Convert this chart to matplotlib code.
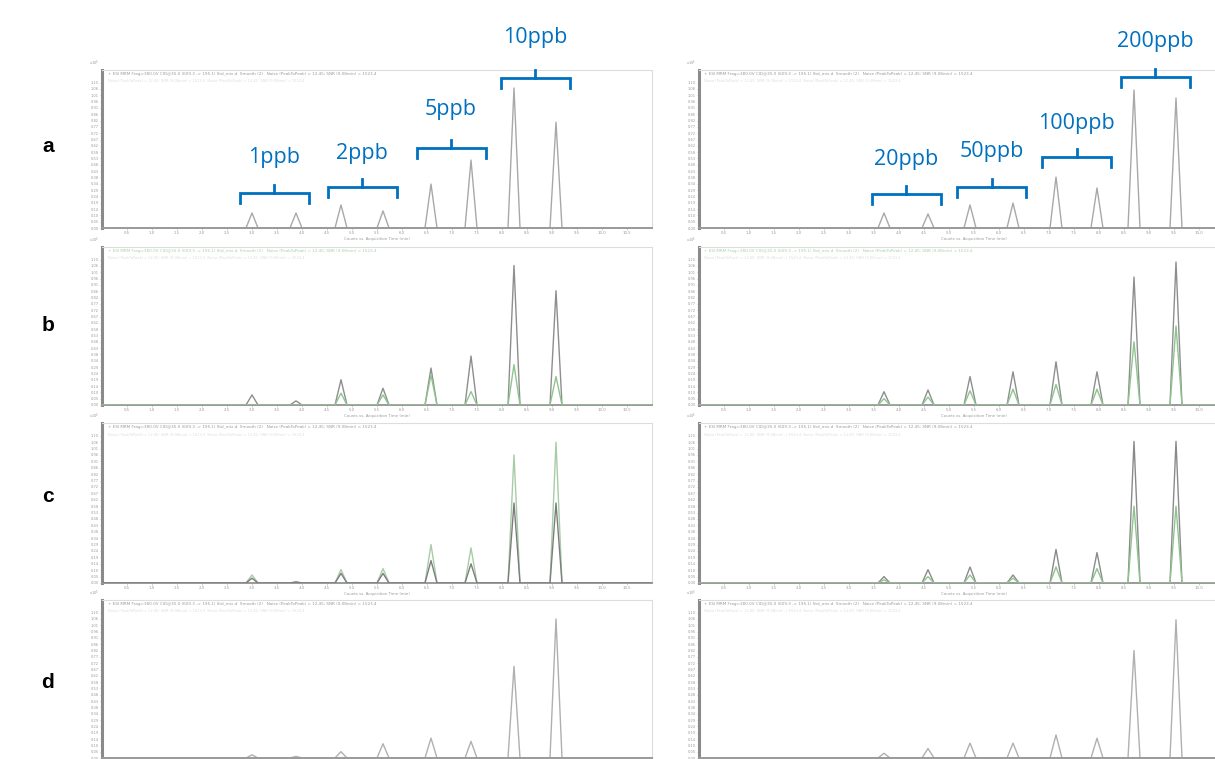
import matplotlib
matplotlib.use("Agg")
import matplotlib.pyplot as plt
from matplotlib.transforms import blended_transform_factory
import numpy as np

W, H = 1215, 759

# ---------------- data ----------------
left_times = [3.00, 3.88, 4.78, 5.62, 6.58, 7.38, 8.24, 9.08]     # retention times (min)
right_times = [3.70, 4.58, 5.42, 6.28, 7.14, 7.96, 8.70, 9.54]

# peak heights in % of full scale
a_left_gray = [9.5, 9.5, 14.6, 10.8, 27.8, 43.0, 88.6, 67.0]
a_right_gray = [9.5, 8.9, 14.6, 15.8, 32.3, 25.3, 87.3, 82.3]
b_left_gray = [6.4, 2.6, 16.0, 10.6, 23.4, 31.0, 88.3, 72.3]
b_left_green = [0.0, 0.0, 7.5, 6.4, 19.0, 8.5, 25.5, 18.0]
b_right_gray = [8.4, 9.5, 18.0, 21.0, 27.4, 21.0, 81.0, 90.5]
b_right_green = [4.0, 5.0, 9.0, 10.0, 13.0, 10.0, 40.0, 50.0]
c_left_green = [5.0, 1.0, 8.4, 9.0, 24.0, 22.0, 80.0, 88.0]
c_left_gray = [3.0, 0.5, 6.0, 6.0, 14.0, 12.0, 50.0, 50.0]
c_right_gray = [4.0, 8.3, 10.0, 5.0, 21.0, 19.0, 88.5, 88.5]
c_right_green = [2.0, 4.0, 5.0, 3.0, 10.0, 9.0, 48.0, 48.0]
d_left_gray = [2.0, 1.0, 4.0, 9.0, 12.6, 10.5, 58.0, 88.0]
d_right_gray = [3.0, 6.0, 9.4, 9.4, 14.6, 12.5, 68.0, 87.5]

left_conc = ["1ppb", "2ppb", "5ppb", "10ppb"]
right_conc = ["20ppb", "50ppb", "100ppb", "200ppb"]
panel_labels = ["a", "b", "c", "d"]

header_text = "+ ESI MRM Frag=380.0V CID@35.0 (609.3 -> 195.1) Std_mix.d  Smooth (2)"
header_text2 = "Noise (PeakToPeak) = 12.45; SNR (9.08min) = 1523.4"
xlabel_text = "Counts vs. Acquisition Time (min)"

# ---------------- layout ----------------
BLUE = "#0070C0"
rows = [(70, 228), (247, 405), (423, 583), (600, 758)]
label_y = [147, 325, 497, 683]
cols = [(102, 652), (699, 1249)]
XMIN, XMAX = 0.0, 11.0
PEAK_HW = 0.12

fig = plt.figure(figsize=(W / 100, H / 100), dpi=100)
fig.patch.set_facecolor("white")


def rect(x0, top, x1, bottom):
    return [x0 / W, 1 - bottom / H, (x1 - x0) / W, (bottom - top) / H]


def trace(times, heights):
    xs, ys = [XMIN], [0.0]
    for t, h in zip(times, heights):
        xs += [t - PEAK_HW, t, t + PEAK_HW]
        ys += [0.0, h, 0.0]
    xs.append(XMAX)
    ys.append(0.0)
    return xs, ys


def style_axes(ax, header_color, col, show_x):
    ax.set_xlim(XMIN, XMAX)
    ax.set_ylim(0, 100)
    for s in ["top", "right"]:
        ax.spines[s].set_color("#dddddd")
        ax.spines[s].set_linewidth(0.8)
    ax.spines["left"].set_color("#8a8a8a")
    ax.spines["left"].set_linewidth(2.2)
    ax.spines["bottom"].set_color("#9a9a9a")
    ax.spines["bottom"].set_linewidth(1.4)
    yt = np.arange(0, 95, 4)
    ax.set_yticks(yt)
    ax.set_yticklabels([f"{v/100*1.2:.2f}" for v in yt], fontsize=2.6, color="#9a9a9a")
    xt = np.arange(0.5, 11.0 if col == 0 else 10.1, 0.5)
    ax.set_xticks(xt)
    if show_x:
        ax.set_xticklabels([f"{v:.1f}" for v in xt], fontsize=2.8, color="#9a9a9a")
        ax.set_xlabel(xlabel_text, fontsize=2.8, color="#9a9a9a", labelpad=1)
    else:
        ax.set_xticklabels([])
    ax.tick_params(axis="both", length=1.5, width=0.4, color="#aaaaaa", pad=1)
    ax.text(-0.005, 1.01, "x10$^5$", transform=ax.transAxes, fontsize=2.6,
            color="#9a9a9a", ha="right", va="bottom")
    ax.text(0.01, 0.985, header_text + "   " + header_text2, transform=ax.transAxes,
            fontsize=3.0, color=header_color, ha="left", va="top")
    ax.text(0.01, 0.94, header_text2 + "  " + header_text2, transform=ax.transAxes,
            fontsize=2.6, color="#dddddd", ha="left", va="top")


panels = [
    [(a_left_gray, None), (a_right_gray, None)],
    [(b_left_gray, b_left_green), (b_right_gray, b_right_green)],
    [(c_left_gray, c_left_green), (c_right_gray, c_right_green)],
    [(d_left_gray, None), (d_right_gray, None)],
]
gray_colors = ["#a6aaa6", "#8e8e8e", "#8a8a8a", "#b0b0b0"]
header_colors = ["#9a9a9a", "#a9cfa9", "#9a9a9a", "#9a9a9a"]

axes = {}
for r, (top, bottom) in enumerate(rows):
    for c, (x0, x1) in enumerate(cols):
        ax = fig.add_axes(rect(x0, top, x1, bottom))
        times = left_times if c == 0 else right_times
        gray, green = panels[r][c]
        style_axes(ax, header_colors[r], c, show_x=(r < 3))
        if r == 2 and c == 0:
            # tall light-green trace behind darker gray one
            xs, ys = trace(times, green)
            ax.plot(xs, ys, color="#a8cca8", lw=1.0, zorder=2)
            xs, ys = trace(times, gray)
            ax.plot(xs, ys, color="#7d7d7d", lw=1.0, zorder=3)
        else:
            xs, ys = trace(times, gray)
            ax.plot(xs, ys, color=gray_colors[r], lw=1.0, zorder=2)
            if green is not None:
                xs, ys = trace(times, green)
                ax.plot(xs, ys, color="#8fc48f", lw=1.0, zorder=3)
        axes[(r, c)] = ax
    fig.text(48 / W, 1 - label_y[r] / H, panel_labels[r],
             family="Liberation Sans", fontweight="bold", fontsize=15,
             ha="center", va="center", color="black")

# ---------------- concentration brackets on row a ----------------
# bracket vertical positions (pixels from figure top) and label centres
left_br_y = [193, 187, 148, 78]
left_tx_y = [158, 154, 109, 37]
right_br_y = [194, 187, 157, 77]
right_tx_y = [159, 152, 123, 41]
BR_HW = 0.69

for c, (times, concs, bys, tys) in enumerate([
        (left_times, left_conc, left_br_y, left_tx_y),
        (right_times, right_conc, right_br_y, right_tx_y)]):
    ax = axes[(0, c)]
    top, bottom = rows[0]
    tr = blended_transform_factory(ax.transData, ax.transAxes)
    to_ax = lambda y: (bottom - y) / (bottom - top)
    for i, label in enumerate(concs):
        mid = (times[2 * i] + times[2 * i + 1]) / 2
        yb = to_ax(bys[i])
        ydn = to_ax(bys[i] + 10)
        yup = to_ax(bys[i] - 8)
        ax.plot([mid - BR_HW, mid - BR_HW, mid + BR_HW, mid + BR_HW],
                [ydn, yb, yb, ydn], color=BLUE, lw=2.0, transform=tr,
                clip_on=False, solid_joinstyle="miter", zorder=5)
        ax.plot([mid, mid], [yb, yup], color=BLUE, lw=2.0, transform=tr,
                clip_on=False, zorder=5)
        ax.text(mid, to_ax(tys[i]), label, transform=tr, ha="center", va="center",
                fontsize=15.5, color=BLUE, family="Open Sans", clip_on=False, zorder=6)

fig.savefig("out.png", dpi=100, facecolor="white")
